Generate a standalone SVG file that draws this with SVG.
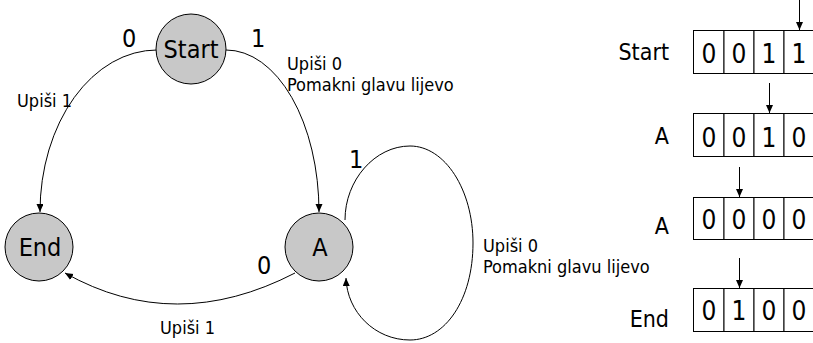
<svg xmlns="http://www.w3.org/2000/svg" width="813" height="343" viewBox="0 0 813 343">
  <style>
    text { font-family: "DejaVu Sans Condensed", "DejaVu Sans", sans-serif; fill: #000; }
    .node circle { fill: #c8c8c8; stroke: #000; stroke-width: 1; }
    .node text { font-size: 25px; text-anchor: middle; }
    .edge { fill: none; stroke: #000; stroke-width: 1; marker-end: url(#arrow); }
    .sym { font-size: 25px; }
    .act { font-size: 18px; }
    .cell { fill: #fff; stroke: #000; stroke-width: 1; }
    .digit { font-size: 26px; text-anchor: middle; }
    .state { font-size: 23px; text-anchor: end; }
  </style>
  <defs>
    <marker id="arrow" markerUnits="userSpaceOnUse" markerWidth="9" markerHeight="8" refX="8" refY="3.5" orient="auto">
      <path d="M0,0 L8,3.5 L0,7 z" fill="#000"/>
    </marker>
  </defs>

  <rect width="813" height="343" fill="#fff"/>

  <!-- transitions -->
  <g id="connectors">
    <path class="edge" d="M157,50 A117,162 0 0 0 40,212"/>
    <path class="edge" d="M226,50 A93,162 0 0 1 319,212"/>
    <path class="edge" d="M295,273 Q175,335 65,273"/>
    <path class="edge" d="M345,220 C345,180 375,146 410,146 C445,146 473,190 473,243 C473,300 445,340 410,340 C375,340 347,312 346,278"/>
  </g>

  <!-- transition labels -->
  <g id="labels">
    <text class="sym" x="122" y="47">0</text>
    <text class="sym" x="251" y="47">1</text>
    <text class="act" x="17" y="107">Upiši 1</text>
    <text class="act" x="287" y="70">Upiši 0</text>
    <text class="act" x="287" y="91">Pomakni glavu lijevo</text>
    <text class="sym" x="349" y="168">1</text>
    <text class="sym" x="257" y="274">0</text>
    <text class="act" x="160" y="334">Upiši 1</text>
    <text class="act" x="483" y="252">Upiši 0</text>
    <text class="act" x="483" y="273">Pomakni glavu lijevo</text>
  </g>

  <!-- states -->
  <g id="node-start" class="node">
    <circle cx="191" cy="49" r="35"/>
    <text x="191" y="58">Start</text>
  </g>
  <g id="node-end" class="node">
    <circle cx="39" cy="247" r="34"/>
    <text x="40" y="256">End</text>
  </g>
  <g id="node-a" class="node">
    <circle cx="319" cy="247" r="34"/>
    <text x="320" y="256">A</text>
  </g>

  <!-- tape snapshots -->
  <g id="tape-start">
    <text class="state" x="669" y="60">Start</text>
    <rect class="cell" x="693.5" y="30.5" width="30.5" height="43"/>
    <rect class="cell" x="724" y="30.5" width="30" height="43"/>
    <rect class="cell" x="754" y="30.5" width="30" height="43"/>
    <rect class="cell" x="784" y="30.5" width="30" height="43"/>
    <text class="digit" x="709" y="63">0</text>
    <text class="digit" x="739" y="63">0</text>
    <text class="digit" x="769" y="63">1</text>
    <text class="digit" x="799" y="63">1</text>
    <path class="edge" d="M799.5,0 L799.5,30"/>
  </g>
  <g id="tape-a1">
    <text class="state" x="669" y="144">A</text>
    <rect class="cell" x="693.5" y="113.5" width="30.5" height="43"/>
    <rect class="cell" x="724" y="113.5" width="30" height="43"/>
    <rect class="cell" x="754" y="113.5" width="30" height="43"/>
    <rect class="cell" x="784" y="113.5" width="30" height="43"/>
    <text class="digit" x="709" y="147">0</text>
    <text class="digit" x="739" y="147">0</text>
    <text class="digit" x="769" y="147">1</text>
    <text class="digit" x="799" y="147">0</text>
    <path class="edge" d="M769.5,83 L769.5,113"/>
  </g>
  <g id="tape-a2">
    <text class="state" x="669" y="234">A</text>
    <rect class="cell" x="693.5" y="197.5" width="30.5" height="42"/>
    <rect class="cell" x="724" y="197.5" width="30" height="42"/>
    <rect class="cell" x="754" y="197.5" width="30" height="42"/>
    <rect class="cell" x="784" y="197.5" width="30" height="42"/>
    <text class="digit" x="709" y="229">0</text>
    <text class="digit" x="739" y="229">0</text>
    <text class="digit" x="769" y="229">0</text>
    <text class="digit" x="799" y="229">0</text>
    <path class="edge" d="M739.5,167 L739.5,197"/>
  </g>
  <g id="tape-end">
    <text class="state" x="669" y="327">End</text>
    <rect class="cell" x="693.5" y="288.5" width="30.5" height="43"/>
    <rect class="cell" x="724" y="288.5" width="30" height="43"/>
    <rect class="cell" x="754" y="288.5" width="30" height="43"/>
    <rect class="cell" x="784" y="288.5" width="30" height="43"/>
    <text class="digit" x="709" y="320">0</text>
    <text class="digit" x="739" y="320">1</text>
    <text class="digit" x="769" y="320">0</text>
    <text class="digit" x="799" y="320">0</text>
    <path class="edge" d="M739.5,258 L739.5,288"/>
  </g>
</svg>
